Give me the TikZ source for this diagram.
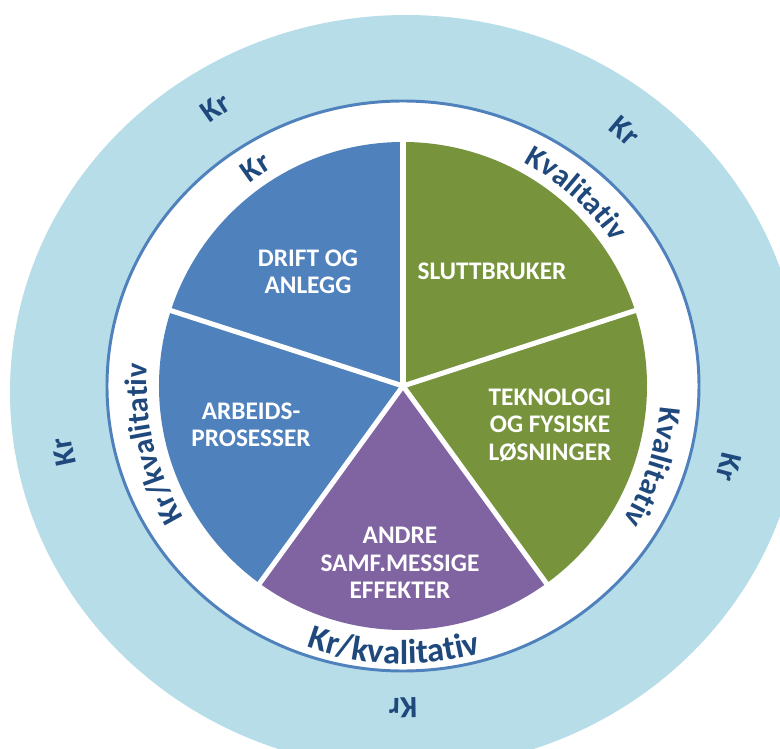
\documentclass[tikz,border=0pt]{standalone}
\usepackage{fontspec}
\setmainfont{Carlito}
\usetikzlibrary{decorations.text}
\definecolor{ringblue}{HTML}{B7DDE8}
\definecolor{lineblue}{HTML}{4F81BD}
\definecolor{sliceblue}{HTML}{4F81BD}
\definecolor{slicegreen}{HTML}{77933C}
\definecolor{slicepurple}{HTML}{8064A2}
\definecolor{labelblue}{HTML}{1F497D}
\newcommand{\ringfont}{\fontsize{22}{24}\selectfont\bfseries}
\newcommand{\bigringfont}{\fontsize{24.5}{26}\selectfont\bfseries}

\begin{document}
\begin{tikzpicture}[
	slice/.style={font=\fontsize{18}{19.6}\selectfont\bfseries, text=white, align=center},
	ringtext/.style={decorate, decoration={text along path, text align=center, text color=labelblue}}]
	\useasboundingbox (-10.075,-9.075) rectangle (9.425,9.65);
	\fill[ringblue] (0.075,-0.15) ellipse [x radius=9.9, y radius=9.425];
	\filldraw[fill=white, draw=lineblue, line width=2.1pt] (0,0) ellipse [x radius=7.4, y radius=7.125];
	\fill[sliceblue]	(0,0) -- (90:6.1) arc[start angle=90, end angle=234, radius=6.1] -- cycle;
	\fill[slicepurple]	(0,0) -- (234:6.1) arc[start angle=234, end angle=306, radius=6.1] -- cycle;
	\fill[slicegreen]	(0,0) -- (306:6.1) arc[start angle=306, end angle=450, radius=6.1] -- cycle;
	\foreach \a in {18,90,162,234,306}
		\draw[white, line width=3.6pt] (0,0) -- (\a:6.3);
	\node[slice] (drift)	at (-2.375,2.85)	{DRIFT OG\\ANLEGG};
	\node[slice] (slutt)	at (2.225,2.875)	{SLUTTBRUKER};
	\node[slice] (arbeid)	at (-3.8,-0.975)	{ARBEIDS-\\PROSESSER};
	\node[slice] (tekno)	at (3.675,-0.975)	{TEKNOLOGI\\OG FYSISKE\\LØSNINGER};
	\node[slice] (andre)	at (-0.075,-4.425)	{ANDRE\\SAMF.MESSIGE\\EFFEKTER};
	\path[ringtext, decoration={text={|\ringfont|Kr}}]		(154:6.35) arc[start angle=154, end angle=94, radius=6.35];
	\path[ringtext, decoration={text={|\ringfont|Kvalitativ}}]	(88:6.35) arc[start angle=88, end angle=8, radius=6.35];
	\path[ringtext, decoration={text={|\ringfont|Kvalitativ}}]	(22:6.45) arc[start angle=22, end angle=-58, radius=6.45];
	\path[ringtext, decoration={text={|\bigringfont|Kr/kvalitativ}}]	(223:6.95) arc[start angle=223, end angle=313, radius=6.95];
	\path[ringtext, decoration={text={|\ringfont|Kr/kvalitativ}}]	(238:6.4) arc[start angle=238, end angle=148, radius=6.4];
	\path[ringtext, decoration={text={|\ringfont|Kr}}]		(144:8.15) arc[start angle=144, end angle=104, radius=8.15];
	\path[ringtext, decoration={text={|\ringfont|Kr}}]		(69:8.2) arc[start angle=69, end angle=29, radius=8.2];
	\path[ringtext, decoration={text={|\ringfont|Kr}}]		(6:8.15) arc[start angle=6, end angle=-34, radius=8.15];
	\path[ringtext, decoration={text={|\ringfont|Kr}}]		(290:7.8) arc[start angle=290, end angle=250, radius=7.8];
	\path[ringtext, decoration={text={|\ringfont|Kr}}]		(211:8.4) arc[start angle=211, end angle=171, radius=8.4];
\end{tikzpicture}
\end{document}
